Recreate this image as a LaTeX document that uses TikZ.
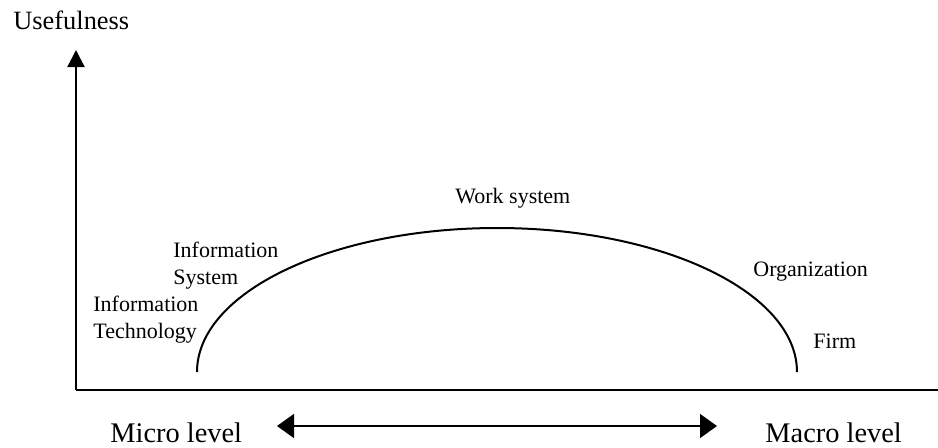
\documentclass[tikz,border=0pt]{standalone}
\usepackage{fontspec}
\setmainfont{Liberation Serif}
\usetikzlibrary{arrows.meta, positioning}

\begin{document}
\begin{tikzpicture}[
  x=0.5pt, y=-0.5pt,
  axislabel/.style={inner sep=0pt, anchor=base west, font=\fontsize{13.2}{16}\selectfont},
  levellabel/.style={inner sep=0pt, anchor=base west, font=\fontsize{14.2}{17}\selectfont},
  curvelabel/.style={inner sep=0pt, anchor=base west, align=left, font=\fontsize{11}{13.3}\selectfont},
  axisline/.style={line width=1pt, -{Triangle[length=8.5pt, width=8.5pt]}},
]
\useasboundingbox (0,0) rectangle (938,447);

% axes
\coordinate (O) at (76,390);
\coordinate (ytop) at (76,50);
\coordinate (xend) at (938,390);
\node[axislabel] (usef) at (13,29) {Usefulness};
\draw[axisline] (O) -- (ytop);
\draw[line width=1pt] (O) -- (xend);

% curve
\coordinate (cstart) at (197,372);
\draw[line width=1pt] (cstart) arc[start angle=180, end angle=360, x radius=300, y radius=144];

% labels along the curve (base = last line)
\node[curvelabel] (itech) at (93,338.3) {Information\\Technology};
\node[curvelabel] (isys) at (173,284.3) {Information\\System};
\node[curvelabel] (work) at (455,203) {Work system};
\node[curvelabel] (org) at (753,276) {Organization};
\node[curvelabel] (firm) at (813,348) {Firm};

% micro / macro
\node[levellabel] (micro) at (110,442) {Micro level};
\node[levellabel] (macro) at (765,442) {Macro level};
\coordinate (arrL) at (277,426);
\coordinate (arrR) at (717,426);
\draw[line width=0.8pt, {Triangle[length=8.5pt, width=12pt]}-{Triangle[length=8.5pt, width=12pt]}] (arrL) -- (arrR);

\end{tikzpicture}
\end{document}
